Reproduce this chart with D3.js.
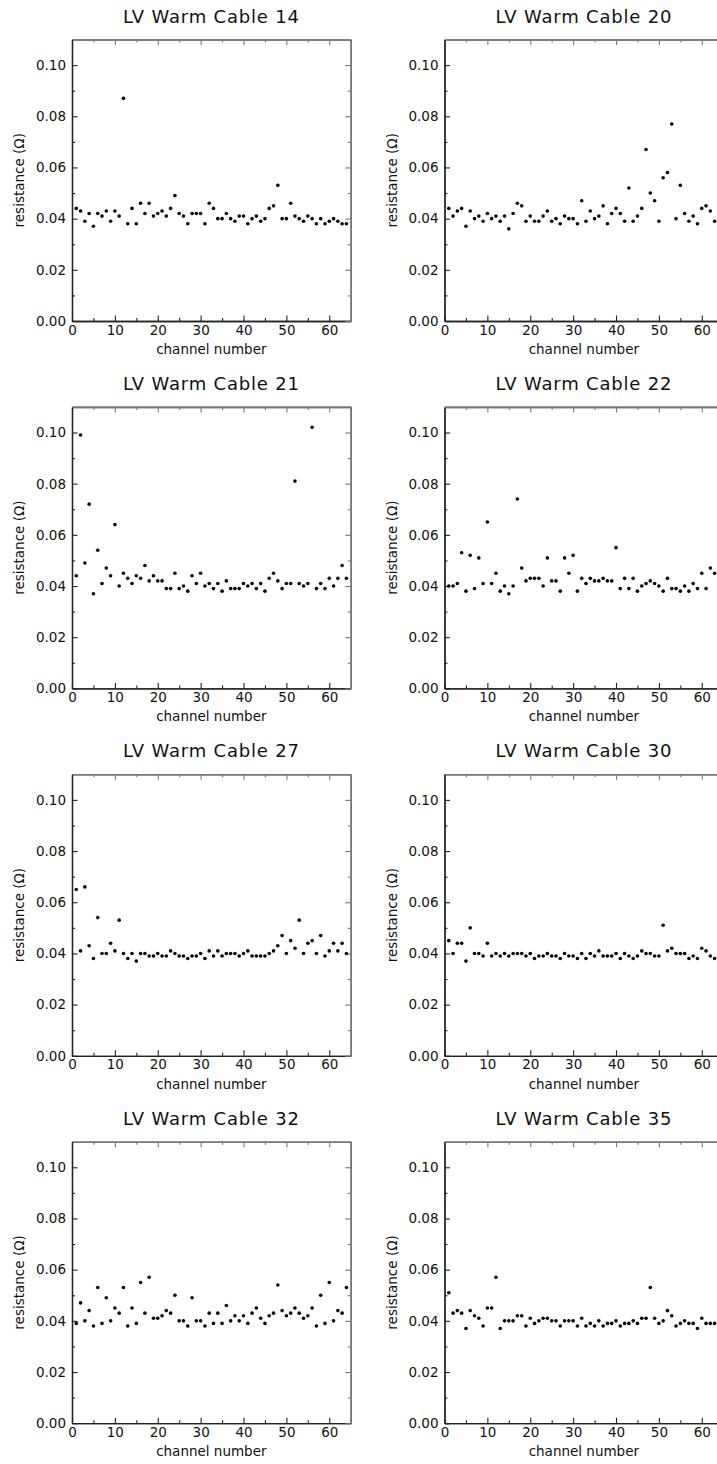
<!DOCTYPE html>
<html lang="en">
<head>
    <meta charset="UTF-8">
    <title>LV Warm Cable resistance</title>
    <script src="https://cdnjs.cloudflare.com/ajax/libs/d3/7.8.5/d3.min.js"></script>
    <style>
        html, body {
            margin: 0;
            padding: 0;
            background: #fff;
            overflow: hidden;
        }
        svg { display: block; }
    </style>
</head>
<body>
    <svg id="chart" width="717" height="1464"></svg>

    <script>
        // Panel titles and measured resistance per channel (ohm)
        const titles = ["LV Warm Cable 14", "LV Warm Cable 20", "LV Warm Cable 21", "LV Warm Cable 22",
                        "LV Warm Cable 27", "LV Warm Cable 30", "LV Warm Cable 32", "LV Warm Cable 35"];

        const cable14 = [0.044,0.043,0.039,0.042,0.037,0.042,0.041,0.043,0.039,0.043,0.041,0.087,0.038,0.044,0.038,0.046,
                         0.042,0.046,0.041,0.042,0.043,0.041,0.044,0.049,0.042,0.041,0.038,0.042,0.042,0.042,0.038,0.046,
                         0.044,0.040,0.040,0.042,0.040,0.039,0.041,0.041,0.038,0.040,0.041,0.039,0.040,0.044,0.045,0.053,
                         0.040,0.040,0.046,0.041,0.040,0.039,0.041,0.040,0.038,0.040,0.038,0.039,0.040,0.039,0.038,0.038];
        // right-hand panels are cut at the page edge, channel 64 is not visible
        const cable20 = [0.044,0.041,0.043,0.044,0.037,0.043,0.040,0.041,0.039,0.042,0.040,0.041,0.039,0.041,0.036,0.042,
                         0.046,0.045,0.039,0.041,0.039,0.039,0.041,0.043,0.039,0.040,0.038,0.041,0.040,0.040,0.038,0.047,
                         0.039,0.043,0.040,0.041,0.045,0.038,0.042,0.044,0.042,0.039,0.052,0.039,0.041,0.044,0.067,0.050,
                         0.047,0.039,0.056,0.058,0.077,0.040,0.053,0.042,0.039,0.041,0.038,0.044,0.045,0.043,0.039];
        const cable21 = [0.044,0.099,0.049,0.072,0.037,0.054,0.041,0.047,0.044,0.064,0.040,0.045,0.043,0.041,0.044,0.043,
                         0.048,0.042,0.044,0.042,0.042,0.039,0.039,0.045,0.039,0.040,0.038,0.044,0.041,0.045,0.040,0.041,
                         0.039,0.041,0.038,0.042,0.039,0.039,0.039,0.041,0.040,0.041,0.039,0.041,0.038,0.043,0.045,0.042,
                         0.039,0.041,0.041,0.081,0.041,0.040,0.041,0.102,0.039,0.041,0.039,0.043,0.040,0.043,0.048,0.043];
        const cable22 = [0.040,0.040,0.041,0.053,0.038,0.052,0.039,0.051,0.041,0.065,0.041,0.045,0.038,0.040,0.037,0.040,
                         0.074,0.047,0.042,0.043,0.043,0.043,0.040,0.051,0.042,0.042,0.038,0.051,0.045,0.052,0.038,0.043,
                         0.041,0.043,0.042,0.042,0.043,0.042,0.042,0.055,0.039,0.043,0.039,0.043,0.038,0.040,0.041,0.042,
                         0.041,0.040,0.038,0.043,0.039,0.039,0.038,0.040,0.038,0.041,0.039,0.045,0.039,0.047,0.045];
        const cable27 = [0.065,0.041,0.066,0.043,0.038,0.054,0.040,0.040,0.044,0.041,0.053,0.040,0.038,0.040,0.037,0.040,
                         0.040,0.039,0.039,0.040,0.039,0.039,0.041,0.040,0.039,0.039,0.038,0.039,0.039,0.040,0.038,0.041,
                         0.039,0.041,0.039,0.040,0.040,0.040,0.039,0.040,0.041,0.039,0.039,0.039,0.039,0.040,0.041,0.043,
                         0.047,0.040,0.045,0.042,0.053,0.040,0.044,0.045,0.040,0.047,0.039,0.041,0.044,0.041,0.044,0.040];
        const cable30 = [0.045,0.040,0.044,0.044,0.037,0.050,0.040,0.040,0.039,0.044,0.039,0.040,0.039,0.040,0.039,0.040,
                         0.040,0.040,0.039,0.040,0.038,0.039,0.039,0.040,0.039,0.039,0.038,0.040,0.039,0.039,0.038,0.040,
                         0.038,0.040,0.039,0.041,0.039,0.039,0.039,0.040,0.038,0.040,0.039,0.038,0.039,0.041,0.040,0.040,
                         0.039,0.039,0.051,0.041,0.042,0.040,0.040,0.040,0.038,0.039,0.038,0.042,0.041,0.039,0.038];
        const cable32 = [0.039,0.047,0.040,0.044,0.038,0.053,0.039,0.049,0.040,0.045,0.043,0.053,0.038,0.045,0.039,0.055,
                         0.043,0.057,0.041,0.041,0.042,0.044,0.043,0.050,0.040,0.040,0.038,0.049,0.040,0.040,0.038,0.043,
                         0.039,0.043,0.039,0.046,0.040,0.042,0.040,0.042,0.039,0.043,0.045,0.041,0.039,0.042,0.043,0.054,
                         0.044,0.042,0.043,0.045,0.043,0.041,0.042,0.045,0.038,0.050,0.039,0.055,0.040,0.044,0.043,0.053];
        const cable35 = [0.051,0.043,0.044,0.043,0.037,0.044,0.042,0.041,0.038,0.045,0.045,0.057,0.037,0.040,0.040,0.040,
                         0.042,0.042,0.038,0.041,0.039,0.040,0.041,0.041,0.040,0.040,0.038,0.040,0.040,0.040,0.038,0.041,
                         0.038,0.039,0.038,0.040,0.038,0.039,0.039,0.040,0.038,0.039,0.039,0.040,0.039,0.041,0.041,0.053,
                         0.041,0.039,0.040,0.044,0.042,0.038,0.039,0.040,0.039,0.039,0.037,0.041,0.039,0.039,0.039];

        const xMajor = [0, 10, 20, 30, 40, 50, 60];
        const xMinor = [5, 15, 25, 35, 45, 55, 65];
        const yMajor = [0, 0.02, 0.04, 0.06, 0.08, 0.10];
        const yMinor = [0.01, 0.03, 0.05, 0.07, 0.09];

        const series = [cable14, cable20, cable21, cable22, cable27, cable30, cable32, cable35];

        // layout of the 2 x 4 grid (right column runs past the page edge)
        const colX = [72, 444.5];
        const rowY0 = 39.5, rowStep = 367.4;
        const plotW = 278.7, plotH = 281.5;
        const FONT = '"DejaVu Sans", sans-serif';

        const x = d3.scaleLinear().domain([0, 65]).range([0, plotW]);
        const y = d3.scaleLinear().domain([0, 0.11]).range([plotH, 0]);

        const svg = d3.select("#chart");

        function styleAxis(g, color, width) {
            g.select(".domain").attr("stroke", color).attr("stroke-width", width);
            g.selectAll(".tick line").attr("stroke", color).attr("stroke-width", 1.1);
            g.selectAll(".tick text").attr("font-family", FONT).attr("font-size", 13.5).attr("fill", "#111");
        }

        function drawPanel(i) {
            const col = i % 2, row = Math.floor(i / 2);
            const g = svg.append("g")
                .attr("transform", `translate(${colX[col]},${rowY0 + row * rowStep})`);

            // minor ticks first (no labels)
            g.append("g").attr("transform", `translate(0,${plotH})`)
                .call(d3.axisBottom(x).tickValues(xMinor).tickSizeInner(-3).tickSizeOuter(0).tickFormat(""))
                .call(a => styleAxis(a, "#222", 1.3));
            g.append("g")
                .call(d3.axisTop(x).tickValues(xMinor).tickSizeInner(-3).tickSizeOuter(0).tickFormat(""))
                .call(a => styleAxis(a, "#777", 1.6));
            g.append("g")
                .call(d3.axisLeft(y).tickValues(yMinor).tickSizeInner(-3).tickSizeOuter(0).tickFormat(""))
                .call(a => styleAxis(a, "#222", 1.3));
            g.append("g").attr("transform", `translate(${plotW},0)`)
                .call(d3.axisRight(y).tickValues(yMinor).tickSizeInner(-3).tickSizeOuter(0).tickFormat(""))
                .call(a => styleAxis(a, "#777", 1.6));

            // major ticks with labels on bottom / left
            g.append("g").attr("transform", `translate(0,${plotH})`)
                .call(d3.axisBottom(x).tickValues(xMajor).tickSizeInner(-5.5).tickSizeOuter(0).tickPadding(4).tickFormat(d3.format("d")))
                .call(a => styleAxis(a, "#222", 1.3));
            g.append("g")
                .call(d3.axisTop(x).tickValues(xMajor).tickSizeInner(-5.5).tickSizeOuter(0).tickFormat(""))
                .call(a => styleAxis(a, "#777", 1.6));
            g.append("g")
                .call(d3.axisLeft(y).tickValues(yMajor).tickSizeInner(-5.5).tickSizeOuter(0).tickPadding(6).tickFormat(d3.format(".2f")))
                .call(a => styleAxis(a, "#222", 1.3));
            g.append("g").attr("transform", `translate(${plotW},0)`)
                .call(d3.axisRight(y).tickValues(yMajor).tickSizeInner(-5.5).tickSizeOuter(0).tickFormat(""))
                .call(a => styleAxis(a, "#777", 1.6));

            // points
            g.selectAll(".pt")
                .data(series[i])
                .enter().append("circle")
                .attr("class", "pt")
                .attr("cx", (d, k) => x(k + 1))
                .attr("cy", d => y(d))
                .attr("r", 1.8)
                .attr("fill", "#000");

            // title
            g.append("text")
                .attr("x", plotW / 2)
                .attr("y", -17)
                .attr("text-anchor", "middle")
                .attr("font-family", FONT)
                .attr("font-size", 18)
                .attr("letter-spacing", 0.8)
                .attr("fill", "#111")
                .text(titles[i]);

            // axis titles
            g.append("text")
                .attr("x", plotW / 2)
                .attr("y", plotH + 33)
                .attr("text-anchor", "middle")
                .attr("font-family", FONT)
                .attr("font-size", 13.5)
                .attr("fill", "#111")
                .text("channel number");

            g.append("text")
                .attr("transform", `translate(-48,${plotH / 2}) rotate(-90)`)
                .attr("text-anchor", "middle")
                .attr("font-family", FONT)
                .attr("font-size", 13.5)
                .attr("fill", "#111")
                .text("resistance (\u03A9)");
        }

        for (let i = 0; i < series.length; i++) drawPanel(i);
    </script>
</body>
</html>
